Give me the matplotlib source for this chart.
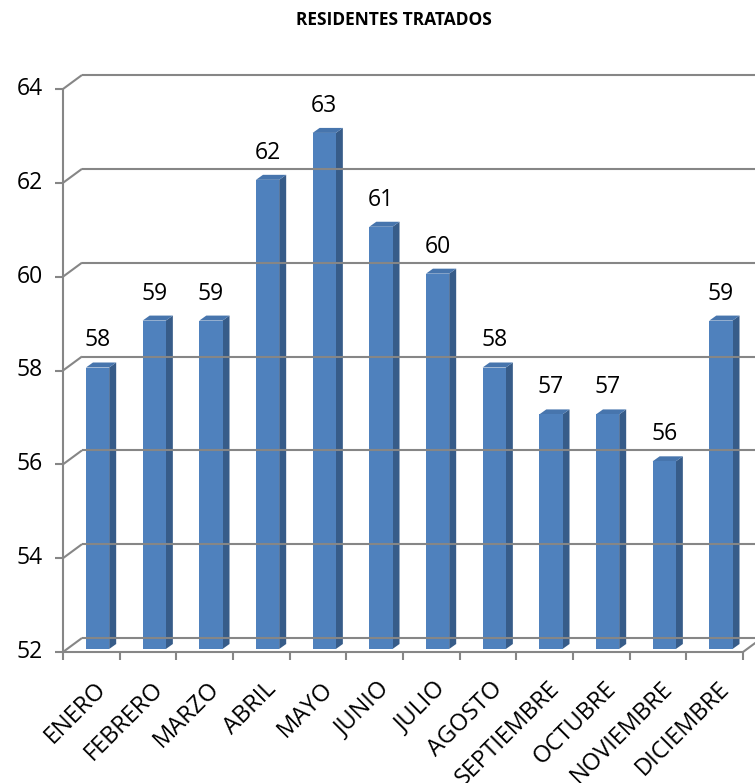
import matplotlib
matplotlib.use("Agg")
import matplotlib.pyplot as plt
from matplotlib.patches import Polygon
from matplotlib.lines import Line2D
from matplotlib.transforms import IdentityTransform

months = ["ENERO", "FEBRERO", "MARZO", "ABRIL", "MAYO", "JUNIO", "JULIO",
          "AGOSTO", "SEPTIEMBRE", "OCTUBRE", "NOVIEMBRE", "DICIEMBRE"]
values = [58, 59, 59, 62, 63, 61, 60, 58, 57, 57, 56, 59]
y_ticks = [52, 54, 56, 58, 60, 62, 64]
title = "RESIDENTES TRATADOS"

FONT = ["Open Sans", "DejaVu Sans"]
plt.rcParams["font.family"] = FONT

W, H, DPI = 755, 783, 100
fig = plt.figure(figsize=(W / DPI, H / DPI), dpi=DPI)
ax = fig.add_axes([63 / W, 1 - 652 / H, 680 / W, 563 / H])
ax.set_xlim(0, len(months))
ax.set_ylim(y_ticks[0], y_ticks[-1])
ax.axis("off")

GRID = "#868686"
LW = 1.5
WALL_DX, WALL_DY = 19, 14
BAR_DX, BAR_DY = 7, 5
BAR_W = 0.41
BAR_SHIFT = 0.11
FRONT_DY = 3

FRONT = "#4F81BD"
SIDE = "#375C89"
TOP = "#4775AD"

NUM_FS = 16.5

def disp(x, y):
    return ax.transData.transform((x, y))

def line_px(p0, p1):
    ln = Line2D([p0[0], p1[0]], [p0[1], p1[1]], transform=IdentityTransform(),
                color=GRID, lw=LW, solid_capstyle="butt", clip_on=False)
    fig.add_artist(ln)

n = len(months)
for t in y_ticks:
    a = disp(0, t)
    b = disp(n, t)
    aw = (a[0] + WALL_DX, a[1] + WALL_DY)
    bw = (b[0] + WALL_DX, b[1] + WALL_DY)
    line_px(a, aw)
    line_px(aw, bw)
    line_px((a[0] - 8, a[1]), a)
    fig.text(a[0] - 20, a[1], str(t), transform=IdentityTransform(),
             ha="right", va="center", fontsize=NUM_FS, color="black")

b0 = disp(n, y_ticks[0])
line_px(b0, (b0[0] + WALL_DX, b0[1] + WALL_DY))

p_bot = disp(0, y_ticks[0])
p_top = disp(0, y_ticks[-1])
line_px(p_bot, p_top)
line_px(p_bot, disp(n, y_ticks[0]))
for i in range(n + 1):
    p = disp(i, y_ticks[0])
    line_px(p, (p[0], p[1] - 8))

for i, v in enumerate(values):
    xl = i + 0.5 + BAR_SHIFT - BAR_W / 2
    xr = xl + BAR_W
    bl = disp(xl, y_ticks[0]); br = disp(xr, y_ticks[0])
    tl = disp(xl, v); tr = disp(xr, v)
    bl = (bl[0], bl[1] + FRONT_DY); br = (br[0], br[1] + FRONT_DY)
    tl = (tl[0], tl[1] + FRONT_DY); tr = (tr[0], tr[1] + FRONT_DY)
    side = Polygon([br, tr, (tr[0] + BAR_DX, tr[1] + BAR_DY),
                    (br[0] + BAR_DX, br[1] + BAR_DY)], closed=True,
                   transform=IdentityTransform(), facecolor=SIDE, edgecolor="none")
    top = Polygon([tl, tr, (tr[0] + BAR_DX, tr[1] + BAR_DY),
                   (tl[0] + BAR_DX, tl[1] + BAR_DY)], closed=True,
                  transform=IdentityTransform(), facecolor=TOP, edgecolor="none")
    front = Polygon([bl, br, tr, tl], closed=True, transform=IdentityTransform(),
                    facecolor=FRONT, edgecolor="none")
    for p in (side, top, front):
        fig.add_artist(p)
    cx = (tl[0] + tr[0]) / 2
    fig.text(cx, tr[1] + BAR_DY + 10, str(v), transform=IdentityTransform(),
             ha="center", va="bottom", fontsize=NUM_FS, color="black")

for i, m in enumerate(months):
    p = disp(i + 0.5, y_ticks[0])
    fig.text(p[0] + 3, p[1] - 25, m, transform=IdentityTransform(),
             rotation=45, rotation_mode="anchor", ha="right", va="top",
             fontsize=17, color="black")

fig.text(394 / W, 1 - 20 / H, title, ha="center", va="center",
         fontsize=12.5, fontweight="bold", color="black")

fig.savefig("out.png", dpi=DPI)
